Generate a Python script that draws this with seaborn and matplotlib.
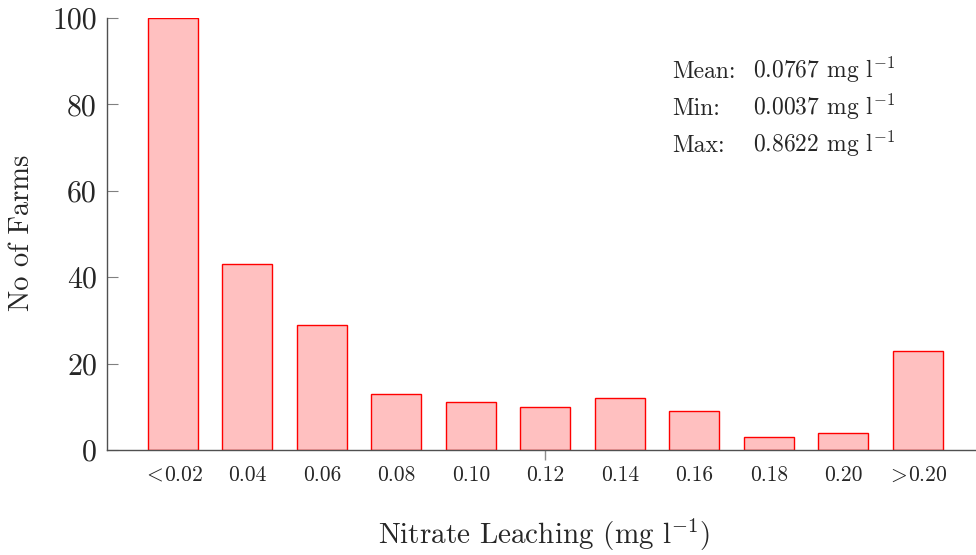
"""Histogram of nitrate leaching across farms."""

import matplotlib
matplotlib.use("Agg")
import matplotlib.pyplot as plt
import pandas as pd
import seaborn as sns

BINS = [r'$<\!$0.02', '0.04', '0.06', '0.08', '0.10', '0.12',
        '0.14', '0.16', '0.18', '0.20', r'$>\!$0.20']
FARMS = [100, 43, 29, 13, 11, 10, 12, 9, 3, 4, 23]
Y_TICKS = [0, 20, 40, 60, 80, 100]
STAT_NAMES = ['Mean:', 'Min:', 'Max:']
STAT_VALUES = ['0.0767', '0.0037', '0.8622']

sns.set_theme(style="white")
plt.rcParams['font.family'] = ['cmr10', 'DejaVu Serif']
plt.rcParams['mathtext.fontset'] = 'cm'
plt.rcParams['axes.unicode_minus'] = False
plt.rcParams['axes.formatter.use_mathtext'] = True
plt.rcParams['xtick.bottom'] = True

df = pd.DataFrame({'bin': BINS, 'farms': FARMS})

fig = plt.figure(figsize=(9.76, 5.55), dpi=100)
ax = fig.add_axes([0.1093, 0.1892, 0.8897, 0.7784])
sns.barplot(data=df, x='bin', y='farms', order=BINS, color='#ffc0c0',
            edgecolor='red', linewidth=1.0, width=0.67, saturation=1, ax=ax)

ax.set_xlim(-0.89, 10.77)
ax.set_ylim(0, 100)
ax.set_yticks(Y_TICKS)
ax.set_yticklabels([str(v) for v in Y_TICKS], fontsize=21.5)
ax.tick_params(axis='y', direction='in', length=8, width=0.8,
               color='#808080', pad=7, left=True)

ax.set_xticks(range(len(BINS)))
ax.set_xticklabels(BINS)
ax.tick_params(axis='x', which='major', direction='out', length=7,
               width=1.0, color='#8c8c8c', bottom=True, pad=4,
               labelsize=15.5)
# pgfplots leaves a single tick mark under the middle bar only
for i, tick in enumerate(ax.xaxis.get_major_ticks()):
    if i != 5:
        tick.tick1line.set_visible(False)

for side in ['top', 'right']:
    ax.spines[side].set_visible(False)
for side in ['left', 'bottom']:
    ax.spines[side].set_color('#505050')
    ax.spines[side].set_linewidth(1.0)

ax.set_xlabel('')
ax.set_ylabel('')
fig.text(22 / 976, 1 - 233 / 555, 'No of Farms', rotation=90,
         ha='center', va='center', fontsize=20.5)
fig.text(544 / 976, 1 - 535 / 555, r'Nitrate Leaching (mg l$^{-1}$)',
         ha='center', va='center', fontsize=21)

for i, (name, value) in enumerate(zip(STAT_NAMES, STAT_VALUES)):
    base = 1 - (78 + 37 * i) / 555
    fig.text(672 / 976, base, name, ha='left', va='baseline', fontsize=17)
    fig.text(824 / 976, base, value + r' mg l$^{-1}$', ha='center',
             va='baseline', fontsize=17)

fig.savefig('out.png', dpi=100)
